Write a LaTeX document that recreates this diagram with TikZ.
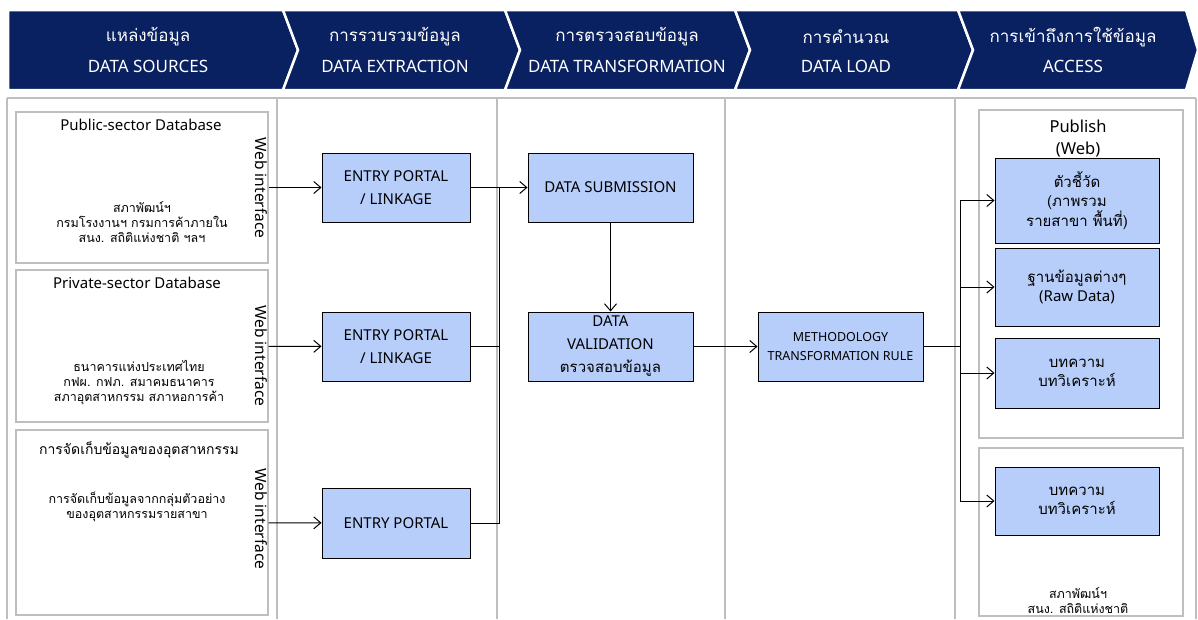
\documentclass[tikz,border=0pt]{standalone}
\usepackage{fontspec}
\setmainfont{Noto Sans}
\newfontfamily\thaifont[Script=Thai]{Loma}
\usetikzlibrary{arrows.meta}
\tikzset{>={Straight Barb[length=7pt,width=12pt]}}
\definecolor{headblue}{RGB}{9,33,96}
\definecolor{boxblue}{RGB}{183,206,251}
\definecolor{framegray}{RGB}{190,190,190}
\tikzset{
  stage/.style = {fill=headblue, draw=white, line width=2.5pt, line join=miter},
  headth/.style = {text=white, font=\thaifont\fontsize{17}{20}\selectfont},
  headen/.style = {text=white, font=\fontsize{17}{20}\selectfont},
  panel/.style = {draw=framegray, line width=1.2pt},
  srcbox/.style = {draw=framegray, line width=1.2pt, minimum width=252pt, inner sep=0pt},
  srctitle/.style = {font=\fontsize{15}{18}\selectfont},
  srcnote/.style = {align=center, font=\thaifont\fontsize{12.5}{15}\selectfont},
  webtext/.style = {rotate=-90, font=\fontsize{15.5}{18}\selectfont},
  procbox/.style = {draw=black, fill=boxblue, line width=1pt, align=center, inner sep=0pt,
                    minimum width=148pt, minimum height=69pt, font=\fontsize{15}{23}\selectfont},
  outbox/.style = {procbox, minimum width=164pt, font=\thaifont\fontsize{15}{19.5}\selectfont},
  link/.style = {line width=1pt}
}

\begin{document}
\begin{tikzpicture}[x=1pt, y=-1pt]
  \useasboundingbox (0,0) rectangle (1198,619);

  % Header
  \path[stage] (8,10) -- (283,10) -- (298,50) -- (283,90) -- (8,90) -- cycle;
  \path[stage] (283,10) -- (505,10) -- (520,50) -- (505,90) -- (283,90) -- (298,50) -- cycle;
  \path[stage] (505,10) -- (735,10) -- (750,50) -- (735,90) -- (505,90) -- (520,50) -- cycle;
  \path[stage] (735,10) -- (958,10) -- (973,50) -- (958,90) -- (735,90) -- (750,50) -- cycle;
  \path[stage] (958,10) -- (1186,10) -- (1198,50) -- (1186,90) -- (958,90) -- (973,50) -- cycle;

  \node[headth] (srcth) at (148,37) {แหล่งข้อมูล};
  \node[headen] (srcen) at (148,66) {DATA SOURCES};
  \node[headth] (extth) at (395,37) {การรวบรวมข้อมูล};
  \node[headen] (exten) at (395,66) {DATA EXTRACTION};
  \node[headth] (trath) at (627,37) {การตรวจสอบข้อมูล};
  \node[headen] (traen) at (627,66) {DATA TRANSFORMATION};
  \node[headth] (loadth) at (846,37) {การคำนวณ};
  \node[headen] (loaden) at (846,66) {DATA LOAD};
  \node[headth] (accth) at (1073,37) {การเข้าถึงการใช้ข้อมูล};
  \node[headen] (accen) at (1073,66) {ACCESS};

  % Columns
  \draw[panel] (7,98) -- (1196,98);
  \draw[panel] (7,98) -- (7,619);
  \draw[panel] (277,98) -- (277,619);
  \draw[panel] (497,98) -- (497,619);
  \draw[panel] (725,98) -- (725,619);
  \draw[panel] (955,98) -- (955,619);
  \draw[panel] (1196,98) -- (1196,619);

  % Sources
  \node[srcbox, minimum height=151pt] (pubsrc) at (142,187.5) {};
  \node[srctitle] (pubtitle) at (141,125) {Public-sector Database};
  \node[srcnote] (pubnote) at (142,222) {สภาพัฒน์ฯ\\กรมโรงงานฯ กรมการค้าภายใน\\สนง. สถิติแห่งชาติ ฯลฯ};
  \node[webtext] (pubweb) at (261,188) {Web interface};

  \node[srcbox, minimum height=152pt] (prisrc) at (142,346) {};
  \node[srctitle] (prititle) at (137,283) {Private-sector Database};
  \node[srcnote] (prinote) at (139,383) {ธนาคารแห่งประเทศไทย\\กฟผ. กฟภ. สมาคมธนาคาร\\สภาอุตสาหกรรม สภาหอการค้า};
  \node[webtext] (priweb) at (261,356) {Web interface};

  \node[srcbox, minimum height=185pt] (indsrc) at (142,522.5) {};
  \node[srctitle, font=\thaifont\fontsize{14}{18}\selectfont] (indtitle) at (139,450) {การจัดเก็บข้อมูลของอุตสาหกรรม};
  \node[srcnote] (indnote) at (137,507) {การจัดเก็บข้อมูลจากกลุ่มตัวอย่าง\\ของอุตสาหกรรมรายสาขา};
  \node[webtext] (indweb) at (261,519) {Web interface};

  % Extraction
  \node[procbox] (entryA) at (396,187.5) {ENTRY PORTAL\\/ LINKAGE};
  \node[procbox] (entryB) at (396,346.5) {ENTRY PORTAL\\/ LINKAGE};
  \node[procbox, minimum height=70pt] (entryC) at (396,523) {ENTRY PORTAL};

  % Transformation
  \node[procbox, minimum width=165pt] (submit) at (610.5,187.5) {DATA SUBMISSION};
  \node[procbox, minimum width=165pt] (valid) at (610.5,346.5) {DATA\\VALIDATION\\\thaifont ตรวจสอบข้อมูล};

  % Load
  \node[procbox, minimum width=165pt, font=\fontsize{12.5}{19}\selectfont] (method) at (840.5,346.5) {METHODOLOGY\\TRANSFORMATION RULE};

  % Access
  \draw[panel] (979,110) rectangle (1183,438);
  \node[srctitle, align=center, font=\fontsize{16.5}{22}\selectfont] (publish) at (1078,139) {Publish\\(Web)};
  \node[outbox, minimum height=85pt] (indic) at (1077,200.5) {ตัวชี้วัด\\(ภาพรวม\\รายสาขา พื้นที่)};
  \node[outbox, minimum height=78pt] (rawdata) at (1077,287) {ฐานข้อมูลต่างๆ\\\rmfamily (Raw Data)};
  \node[outbox, minimum height=70pt] (articleA) at (1077,373) {บทความ\\บทวิเคราะห์};

  \draw[panel] (979,448) rectangle (1183,616);
  \node[outbox, minimum height=68pt] (articleB) at (1077,501) {บทความ\\บทวิเคราะห์};
  \node[srcnote] (agency) at (1078,600.5) {สภาพัฒน์ฯ\\สนง. สถิติแห่งชาติ};

  % Connectors
  \draw[link, ->] (pubsrc) -- (entryA);
  \draw[link, ->] (prisrc) -- (entryB);
  \draw[link, ->] (indsrc) -- (entryC);

  \coordinate (busin) at (499,187.5);
  \draw[link, ->] (entryA) -- (submit);
  \draw[link] (entryB.east) -- (entryB.east -| busin);
  \draw[link] (entryC.east) -| (busin);
  \draw[link, ->] (submit) -- (valid);
  \draw[link, ->] (valid) -- (method);

  \coordinate (busout) at (960,346.5);
  \draw[link] (method) -- (busout);
  \draw[link, ->] (busout) |- (indic);
  \draw[link, ->] (busout) |- (rawdata);
  \draw[link, ->] (busout) |- (articleA);
  \draw[link, ->] (busout) |- (articleB);
\end{tikzpicture}
\end{document}
